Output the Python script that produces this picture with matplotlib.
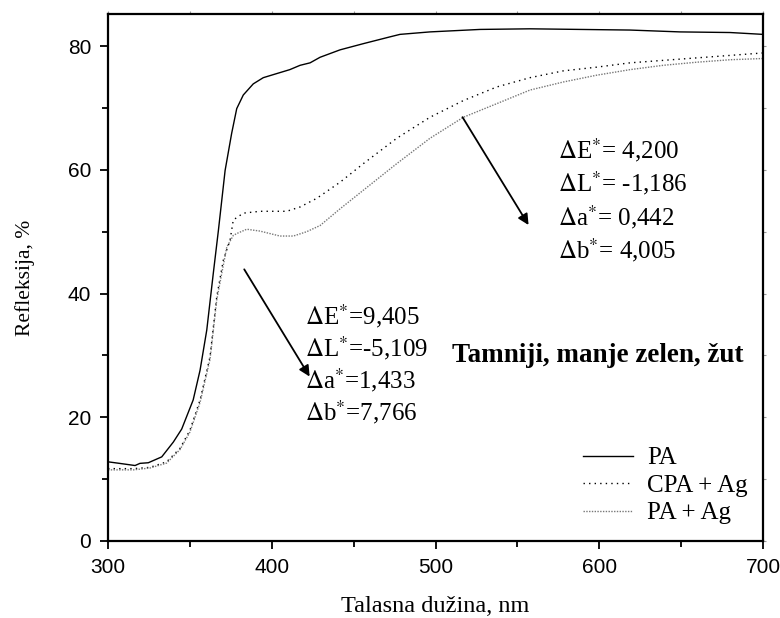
import numpy as np
import matplotlib
matplotlib.use('Agg')
import matplotlib.pyplot as plt

plt.rcParams['mathtext.fontset'] = 'stix'
serif = ['Liberation Serif', 'DejaVu Serif']
sans = ['Liberation Sans', 'DejaVu Sans']

# PA (solid)
pa_x = [300, 307, 316.5, 319.5, 324.6, 332.8, 339.9, 345, 352, 356.2, 360.3, 364.3, 367.4,
        371.5, 375.5, 378.6, 382.6, 388.7, 394.8, 401, 411, 417.3, 423.4, 429.5, 435.6, 441.7,
        455.9, 472.2, 478.3, 496.6, 527.2, 557.7, 588.2, 618.8, 649.3, 679.9, 700]
pa_y = [12.8, 12.55, 12.2, 12.55, 12.65, 13.6, 16.0, 18.1, 22.8, 27.6, 34.1, 43.3, 50.2,
        59.9, 65.9, 69.9, 72.1, 73.9, 74.9, 75.4, 76.2, 76.9, 77.3, 78.2, 78.8, 79.4,
        80.4, 81.5, 81.9, 82.3, 82.7, 82.8, 82.7, 82.6, 82.3, 82.2, 81.9]

# CPA + Ag (dotted)
cpa_x = [300, 315.5, 325.6, 335.8, 344, 350, 356.2, 362.3, 366.4, 370.4, 374.5, 376.5,
         382.6, 392.8, 409.1, 417.3, 427.5, 441.7, 455.9, 476.3, 496.6, 517, 537.4, 557.7,
         578, 598.4, 618.8, 639.1, 659.5, 679.9, 700]
cpa_y = [11.7, 11.7, 11.9, 12.8, 15.0, 17.9, 22.8, 29.8, 39.5, 45.4, 48.6, 51.9,
         53.0, 53.3, 53.3, 54.0, 55.4, 58.0, 61.0, 65.1, 68.5, 71.2, 73.4, 74.9,
         76.0, 76.6, 77.3, 77.7, 78.1, 78.5, 78.9]

# PA + Ag (fine grey dots)
paag_x = [300, 315.5, 325.6, 335.8, 344, 350, 356.2, 362.3, 366.4, 372.5, 376.5, 378.6,
          384.7, 392.8, 405, 413.2, 421.3, 429.5, 441.7, 455.9, 476.3, 496.6, 517, 537.4,
          557.7, 578, 598.4, 618.8, 639.1, 659.5, 679.9, 700]
paag_y = [11.5, 11.5, 11.8, 12.6, 14.8, 17.6, 22.4, 29.4, 39.0, 47.5, 49.4, 49.7,
          50.4, 50.1, 49.3, 49.3, 50.0, 51.0, 53.7, 56.7, 61.0, 65.1, 68.5, 70.7,
          72.9, 74.2, 75.3, 76.2, 76.9, 77.4, 77.8, 78.0]

series_names = ['PA', 'CPA + Ag', 'PA + Ag']

notes_low = [r'$\Delta$E$^{*}$=9,405', r'$\Delta$L$^{*}$=-5,109',
             r'$\Delta$a$^{*}$=1,433', r'$\Delta$b$^{*}$=7,766']
notes_high = [r'$\Delta$E$^{*}$= 4,200', r'$\Delta$L$^{*}$= -1,186',
              r'$\Delta$a$^{*}$= 0,442', r'$\Delta$b$^{*}$= 4,005']

fig = plt.figure(figsize=(7.8, 6.18), dpi=100)
ax = fig.add_axes([0.1385, 0.1246, 0.8397, 0.8528])

ax.plot(pa_x, pa_y, color='black', lw=1.0, ls='-', label=series_names[0])
ax.plot(cpa_x, cpa_y, color='black', lw=1.0, ls=(0, (1, 3)), label=series_names[1])
ax.plot(paag_x, paag_y, color='#777777', lw=1.0, ls=(0, (1, 1)), label=series_names[2])

ax.set_xlim(300, 700)
ax.set_ylim(0, 85.2)
ax.set_xticks([300, 400, 500, 600, 700])
ax.set_xticks(np.arange(350, 700, 100), minor=True)
ax.set_yticks([0, 20, 40, 60, 80])
ax.set_yticks([10, 30, 50, 70], minor=True)
ax.tick_params(which='major', direction='out', length=6, width=1.3, labelsize=15, pad=6)
ax.tick_params(which='minor', direction='out', length=4, width=1.3)
for lab in ax.get_xticklabels() + ax.get_yticklabels():
    lab.set_family(sans)
for s in ax.spines.values():
    s.set_linewidth(1.6)

top = ax.secondary_xaxis('top')
top.set_xticks(np.arange(300, 701, 50))
top.tick_params(direction='out', length=2, width=0.8, colors='#999999', labeltop=False)
top.spines['top'].set_visible(False)
right = ax.secondary_yaxis('right')
right.set_yticks(np.arange(0, 81, 10))
right.tick_params(direction='out', length=2, width=0.8, colors='#999999', labelright=False)
right.spines['right'].set_visible(False)

ax.set_xlabel('Talasna dužina, nm', family=serif, fontsize=17.5, labelpad=14)
ax.set_ylabel('Refleksija, %', family=serif, fontsize=15.5, labelpad=24)

for i, t in enumerate(notes_low):
    ax.text(420.3, 36.3 - i * 5.17, t, family=serif, fontsize=18, va='center', ha='left')
for i, t in enumerate(notes_high):
    ax.text(574.8, 63.2 - i * 5.4, t, family=serif, fontsize=18, va='center', ha='left')

ax.text(509.8, 30.0, 'Tamniji, manje zelen, žut', family=serif, fontsize=19.5,
        fontweight='bold', va='center', ha='left')

ax.annotate('', xy=(424.0, 26.2), xytext=(382.3, 44.3),
            arrowprops=dict(arrowstyle='-|>', color='black', lw=1.3, mutation_scale=16))
ax.annotate('', xy=(557.7, 50.7), xytext=(515.6, 68.9),
            arrowprops=dict(arrowstyle='-|>', color='black', lw=1.3, mutation_scale=16))

ax.legend(loc='lower right', bbox_to_anchor=(1.011, -0.011), frameon=False,
          prop={'family': serif, 'size': 18}, handlelength=2.0, labelspacing=0.2,
          handletextpad=0.55)

fig.savefig('out.png', dpi=100)
